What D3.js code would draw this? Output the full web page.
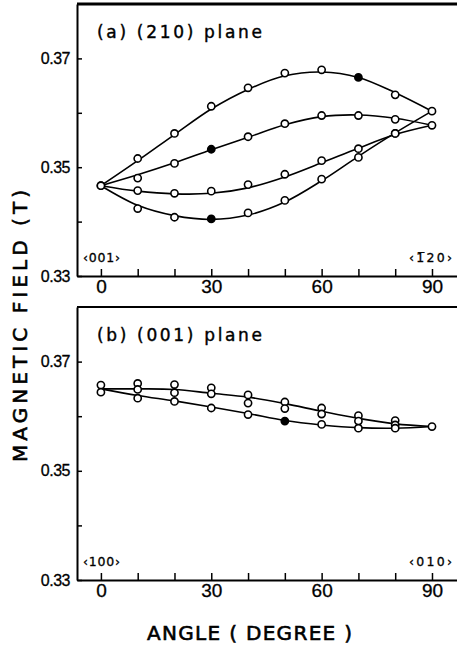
<!DOCTYPE html>
<html>
<head>
<meta charset="utf-8">
<script src="https://cdn.jsdelivr.net/npm/d3@7"></script>
<style>
  body { margin: 0; background: #fff; }
  svg { display: block; }
  text { fill: #000; }
</style>
</head>
<body>
<div id="chart"></div>
<script>
// angle steps (degree)
const angles = [0, 10, 20, 30, 40, 50, 60, 70, 80, 90];
const xTicks = [0, 10, 20, 30, 40, 50, 60, 70, 80, 90];
const xLabels = [0, 30, 60, 90];
const yTicks = [0.33, 0.34, 0.35, 0.36, 0.37];
const yLabels = [0.33, 0.35, 0.37];

// (a) (210) plane - measured points
const a1 = [0.3466, 0.3516, 0.3562, 0.3612, 0.3646, 0.3673, 0.3679, 0.3665, 0.3633, 0.3603];
const a2 = [0.3466, 0.3480, 0.3507, 0.3533, 0.3556, 0.3580, 0.3595, 0.3595, 0.3588, 0.3577];
const a3 = [null, 0.3457, 0.3452, 0.3456, 0.3468, 0.3487, 0.3512, 0.3534, 0.3562, null];
const a4 = [null, 0.3424, 0.3408, 0.3405, 0.3416, 0.3439, 0.3478, 0.3518, 0.3562, null];
// (a) fitted curves
const a1Fit = [0.3466, 0.3512, 0.3560, 0.3607, 0.3643, 0.3668, 0.3675, 0.3665, 0.3637, 0.3603];
const a2Fit = [0.3466, 0.3486, 0.3508, 0.3532, 0.3555, 0.3578, 0.3593, 0.3596, 0.3590, 0.3577];
const a3Fit = [0.3466, 0.3456, 0.3451, 0.3452, 0.3462, 0.3482, 0.3508, 0.3535, 0.3560, 0.3577];
const a4Fit = [0.3466, 0.3430, 0.3411, 0.3404, 0.3412, 0.3436, 0.3475, 0.3520, 0.3563, 0.3603];

// (b) (001) plane - measured points
const bUpperA = [0.3657, 0.3660, 0.3658, 0.3652, 0.3639, 0.3626, 0.3615, 0.3601, 0.3592, null];
const bUpperB = [0.3644, 0.3649, 0.3643, 0.3641, 0.3624, 0.3614, 0.3604, 0.3591, 0.3584, null];
const bLower = [null, 0.3633, 0.3627, 0.3615, 0.3603, 0.3591, 0.3585, 0.3578, 0.3578, 0.3581];
// (b) fitted curves
const bUpperFit = [0.3650, 0.3650, 0.3649, 0.3642, 0.3635, 0.3623, 0.3609, 0.3596, 0.3586, 0.3581];
const bLowerFit = [0.3650, 0.3638, 0.3628, 0.3617, 0.3605, 0.3592, 0.3584, 0.3579, 0.3578, 0.3581];

// filled (solid) markers: [series, index]
const filledA = [["a1", 7], ["a2", 3], ["a4", 3]];
const filledB = [["bLower", 5]];

const W = 457, H = 645;
const svg = d3.select("#chart").append("svg")
    .attr("width", W)
    .attr("height", H);

const x = d3.scaleLinear().domain([-6.5, 96.8]).range([77, 457]);

function panel(opt) {
  const y = d3.scaleLinear().domain([0.33, 0.38]).range([opt.bottom, opt.top]);
  const g = svg.append("g");

  // frame top line
  g.append("line")
      .attr("x1", 77).attr("x2", 457)
      .attr("y1", opt.top).attr("y2", opt.top)
      .attr("stroke", "#000").attr("stroke-width", opt.topWidth);

  // x axis, ticks pointing inward
  const xa = g.append("g")
      .attr("transform", "translate(0," + opt.bottom + ")")
      .call(d3.axisBottom(x)
        .tickValues(xTicks)
        .tickSize(-7)
        .tickSizeOuter(0)
        .tickPadding(4)
        .tickFormat(d => xLabels.includes(d) ? d : ""));
  xa.select(".domain").attr("stroke-width", 2);
  xa.selectAll(".tick line").attr("stroke-width", 1.5);
  xa.selectAll("text")
      .attr("font-family", "Liberation Sans, Arial, sans-serif")
      .attr("font-size", 19)
      .attr("stroke", "#000").attr("stroke-width", 0.3);

  // y axis
  const ya = g.append("g")
      .attr("transform", "translate(77,0)")
      .call(d3.axisLeft(y)
        .tickValues(yTicks)
        .tickSize(-5)
        .tickSizeOuter(0)
        .tickPadding(7)
        .tickFormat(d => yLabels.some(v => Math.abs(v - d) < 1e-9) ? d3.format(".2f")(d) : ""));
  ya.select(".domain").attr("stroke-width", 2);
  ya.selectAll(".tick line").attr("stroke-width", 1.5);
  ya.selectAll("text")
      .attr("font-family", "Liberation Sans, Arial, sans-serif")
      .attr("font-size", 16)
      .attr("letter-spacing", -0.5)
      .attr("stroke", "#000").attr("stroke-width", 0.3);

  const line = d3.line()
      .defined(d => d != null)
      .x((d, i) => x(angles[i]))
      .y(d => y(d))
      .curve(d3.curveCatmullRom);

  opt.fits.forEach(f => {
    g.append("path")
        .attr("d", line(f))
        .attr("fill", "none")
        .attr("stroke", "#000")
        .attr("stroke-width", 1.6);
  });

  Object.keys(opt.points).forEach(key => {
    const vals = opt.points[key];
    g.append("g").selectAll("circle")
      .data(vals.map((v, i) => ({v: v, i: i})).filter(d => d.v != null))
      .join("circle")
        .attr("cx", d => x(angles[d.i]))
        .attr("cy", d => y(d.v))
        .attr("r", 3.6)
        .attr("fill", d => opt.filled.some(f => f[0] === key && f[1] === d.i) ? "#000" : "#fff")
        .attr("stroke", "#000")
        .attr("stroke-width", 1.6);
  });

  // title
  g.append("text")
      .attr("x", 97).attr("y", opt.top + opt.titleDy)
      .attr("font-family", "DejaVu Sans, sans-serif")
      .attr("font-size", 17)
      .attr("stroke", "#000").attr("stroke-width", 0.4)
      .attr("textLength", 165)
      .attr("lengthAdjust", "spacing")
      .text(opt.title);

  // direction labels
  g.append("text")
      .attr("x", 83).attr("y", opt.bottom - 14)
      .attr("font-family", "DejaVu Sans, sans-serif")
      .attr("font-size", 12.5)
      .attr("stroke", "#000").attr("stroke-width", 0.3)
      .attr("textLength", 37)
      .attr("lengthAdjust", "spacing")
      .text(opt.left);
  g.append("text")
      .attr("x", 409).attr("y", opt.bottom - 14)
      .attr("font-family", "DejaVu Sans, sans-serif")
      .attr("font-size", 12.5)
      .attr("stroke", "#000").attr("stroke-width", 0.3)
      .attr("textLength", 43)
      .attr("lengthAdjust", "spacing")
      .text(opt.right);
}

panel({
  top: 4, bottom: 276, topWidth: 3, titleDy: 34,
  title: "(a) (210) plane",
  left: "\u2039001\u203A", right: "\u20391\u030520\u203A",
  fits: [a1Fit, a2Fit, a3Fit, a4Fit],
  points: {a1: a1, a2: a2, a3: a3, a4: a4},
  filled: filledA
});

panel({
  top: 307, bottom: 580, topWidth: 2, titleDy: 34,
  title: "(b) (001) plane",
  left: "\u2039100\u203A", right: "\u2039010\u203A",
  fits: [bUpperFit, bLowerFit],
  points: {bUpperA: bUpperA, bUpperB: bUpperB, bLower: bLower},
  filled: filledB
});

// axis titles
svg.append("text")
    .attr("x", 147).attr("y", 640)
    .attr("font-family", "DejaVu Sans, sans-serif")
    .attr("font-size", 20)
    .attr("stroke", "#000").attr("stroke-width", 0.6)
    .attr("textLength", 205)
    .attr("lengthAdjust", "spacing")
    .text("ANGLE ( DEGREE )");

svg.append("text")
    .attr("transform", "translate(27,462) rotate(-90)")
    .attr("font-family", "DejaVu Sans, sans-serif")
    .attr("font-size", 20)
    .attr("stroke", "#000").attr("stroke-width", 0.6)
    .attr("textLength", 272)
    .attr("lengthAdjust", "spacing")
    .text("MAGNETIC FIELD (T)");
</script>
</body>
</html>
